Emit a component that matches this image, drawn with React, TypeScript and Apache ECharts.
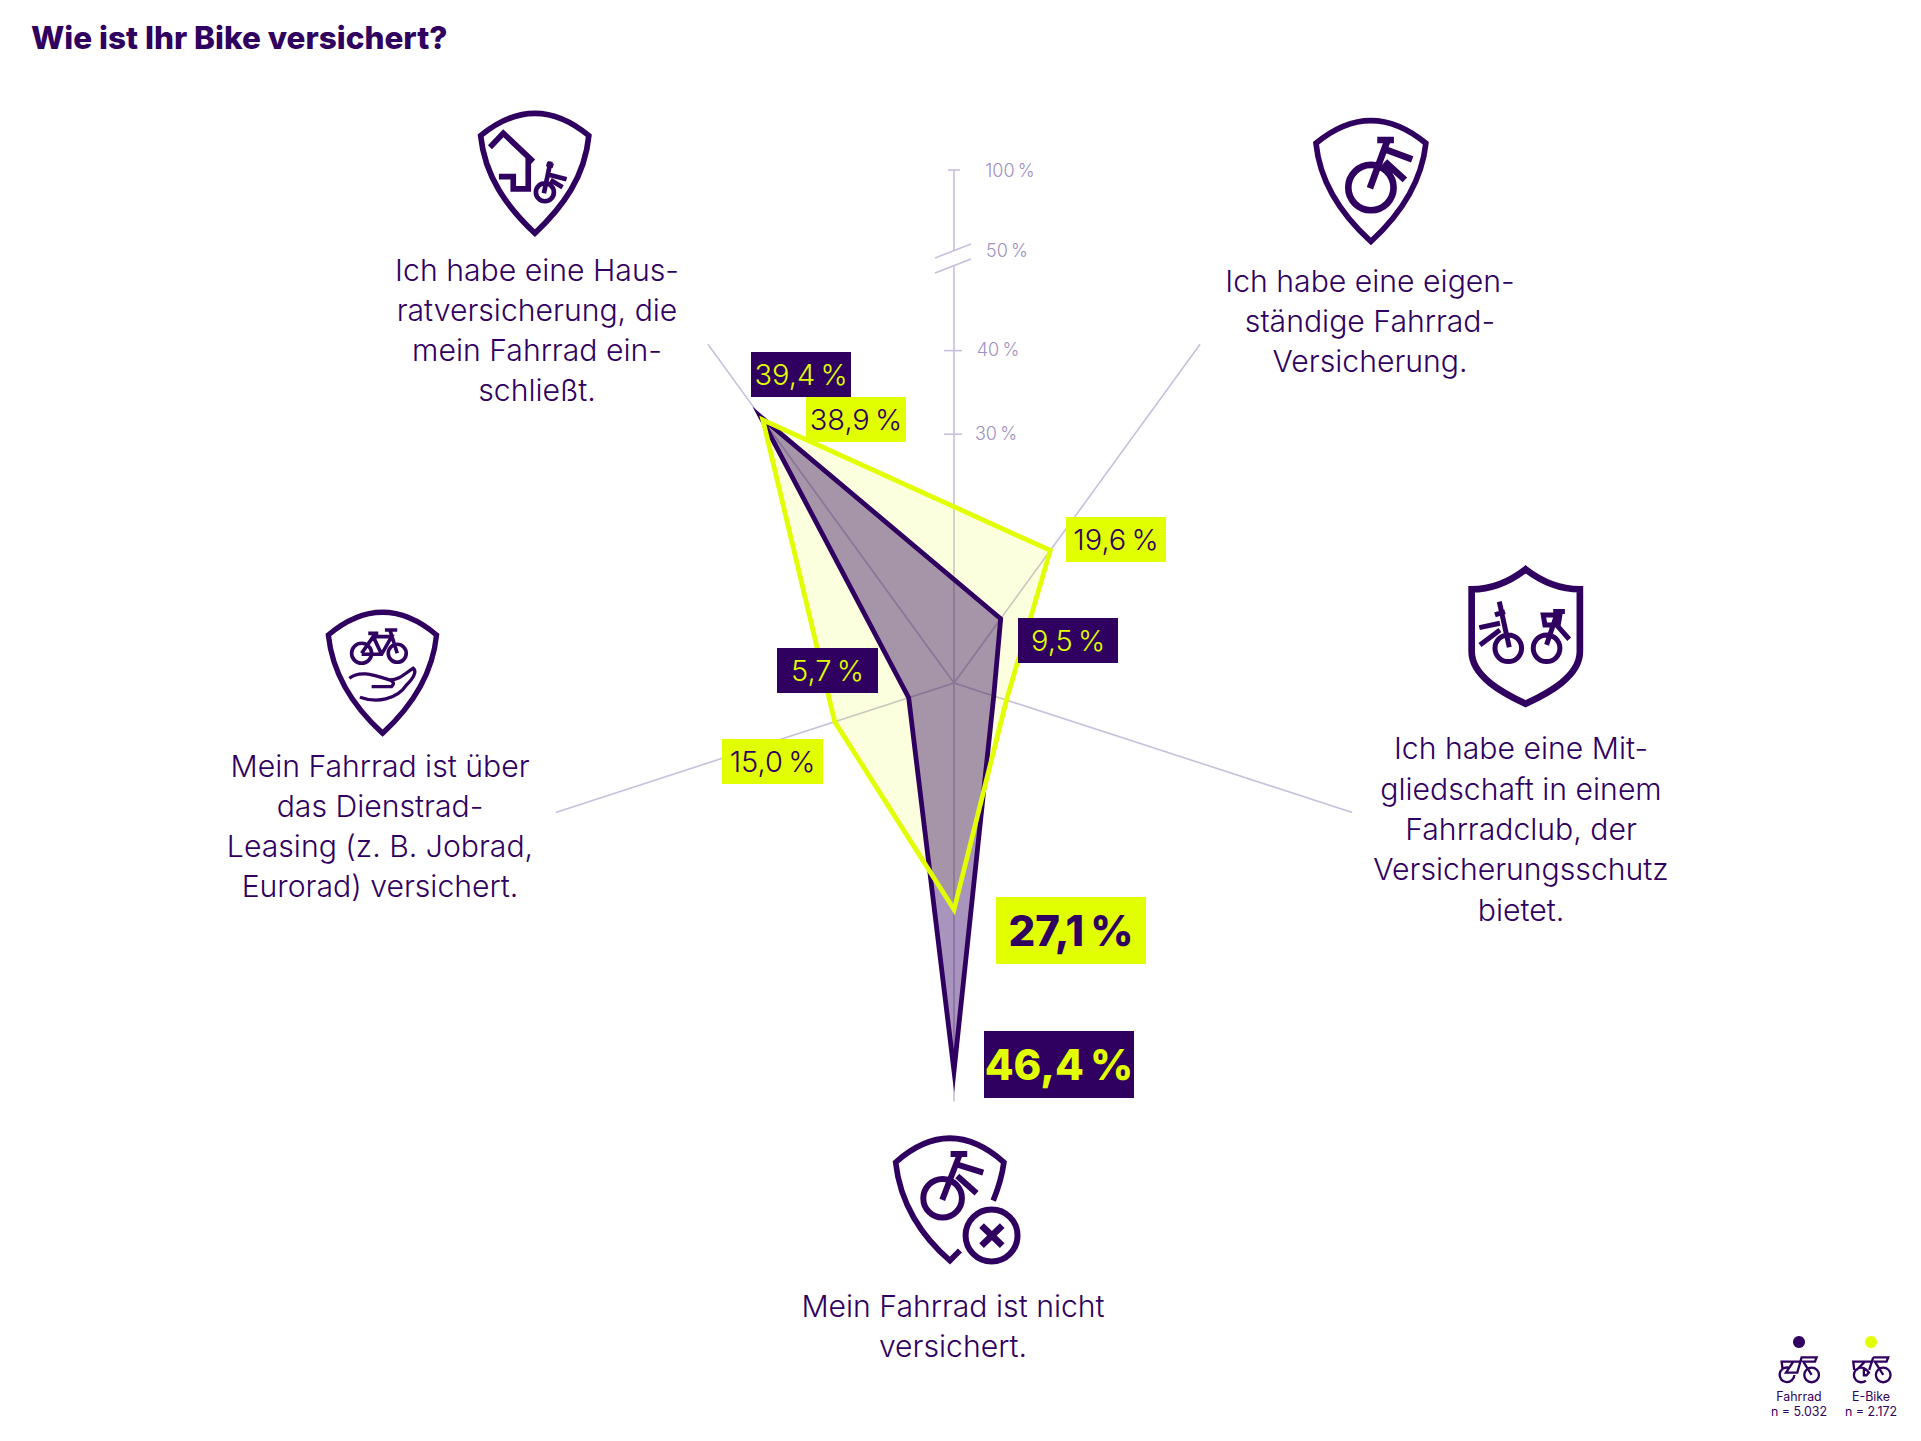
import React, { useEffect, useRef } from "react";
import * as echarts from "echarts";

const INK = "#2f0060";
const LIME = "#e1ff00";
const SPOKE = "#c8bfdc";
const SCALE_TEXT = "#a08fc2";
const FONT = "Inter, sans-serif";

const title = "Wie ist Ihr Bike versichert?";
// counter-clockwise from the right-hand spoke
const categories = [
  "Ich habe eine Mit-\ngliedschaft in einem\nFahrradclub, der\nVersicherungsschutz\nbietet.",
  "Ich habe eine eigen-\nständige Fahrrad-\nVersicherung.",
  "Ich habe eine Haus-\nratversicherung, die\nmein Fahrrad ein-\nschließt.",
  "Mein Fahrrad ist über\ndas Dienstrad-\nLeasing (z. B. Jobrad,\nEurorad) versichert.",
  "Mein Fahrrad ist nicht\nversichert.",
];
const fahrradValues = [5.0, 9.5, 39.4, 5.7, 46.4];
const eBikeValues = [6.6, 19.6, 38.9, 15.0, 27.1];
const axisMax = 50;
const scaleTicks = [30, 40];
const scaleLabels = ["100\u2009%", "50\u2009%", "40\u2009%", "30\u2009%"];
const legendNames = ["Fahrrad", "E-Bike"];
const legendCounts = ["n = 5.032", "n = 2.172"];

const CX = 954;
const CY = 683;
const R = 418;

const circle = (cx: number, cy: number, r: number) =>
  `M ${cx - r} ${cy} A ${r} ${r} 0 1 1 ${cx + r} ${cy} A ${r} ${r} 0 1 1 ${cx - r} ${cy} Z `;

const ICONS: Record<string, string> = {
  icoHouse:
    "M122 137 Q285 3 447 137 C435 260 370 350 285 430 C200 350 135 260 122 137 Z " +
    "M150 172 L190 130 L280 215 M265 200 L265 297 L220 297 L220 260 L177 260 ",
  icoHouseBike:
    circle(315, 307, 27) + "M312 310 L332 215 M320 222 L340 228 M330 255 L380 268 M332 270 L368 292",
  icoOwnShield:
    "M78 130 Q243 -6 408 130 C395 250 330 345 243 425 C155 345 90 250 78 130 Z",
  icoOwnBike:
    circle(243, 263, 68) + "M240 265 L295 115 M262 120 L312 120 M290 150 L367 178 M285 185 L345 240",
  icoClubShield:
    "M227 58 Q150 118 65 118 L65 305 C65 380 160 430 227 462 C295 430 390 380 390 305 L390 118 Q305 118 227 58 Z",
  icoClubBikes:
    circle(175, 295, 40) +
    "M178 292 L148 155 M135 195 L165 185 M88 233 L150 220 M90 285 L150 240 " +
    circle(290, 295, 40) +
    "M290 285 L320 195 M280 195 L330 195 L325 225 L285 225 Z M310 185 L345 185 M320 225 L358 268",
  icoLeaseShield:
    "M55 105 Q218 -31 380 105 C368 225 305 320 218 400 C130 320 68 225 55 105 Z",
  icoLeaseBike:
    circle(155, 160, 30) +
    circle(262, 160, 27) +
    "M155 163 L215 163 L245 110 L190 110 L155 160 M190 110 L215 163 M175 100 L205 100 M225 90 L262 90 M240 90 L262 160",
  icoLeaseHand:
    "M118 235 C150 210 190 225 240 240 C270 240 285 220 310 205 C322 215 310 235 290 255 C260 300 200 310 150 292 M185 260 L245 260 C255 250 250 245 240 240",
  icoNoneShield:
    "M340 212 C355 175 367 135 372 97 Q210 -47 47 97 C60 220 125 320 210 392 L240 362",
  icoNoneBike:
    circle(188, 205, 58) + "M187 210 L240 72 M212 72 L262 72 M235 105 L310 128 M232 138 L290 190",
  icoNoneRing: circle(335, 317, 78),
  icoNoneCross: "M305 287 L367 347 M367 287 L305 347",
  icoLegendBike:
    "M103 165 A 22 22 0 1 1 85 143 " +
    circle(155, 165, 22) +
    "M68 150 L65 125 L125 125 M100 125 L78 158 L112 158 L125 112 L170 112 L165 125 L130 125 L155 165",
  icoLegendEBike:
    "M318 148 A 22 22 0 1 0 318 182 " +
    circle(370, 165, 22) +
    "M283 150 L280 125 L340 125 M315 125 L290 150 M340 112 L385 112 L380 125 L345 125 L370 165 M340 112 L328 150 " +
    "M312 150 L320 150 L327 158 L320 166 L312 166 Z",
};
Object.keys(ICONS).forEach((k) =>
  echarts.graphic.registerShape(k, echarts.graphic.extendPath(ICONS[k] as any, {}) as any)
);

const icon = (type: string, x: number, y: number, w: number, s = 1 / 3) => ({
  type,
  x,
  y,
  scaleX: s,
  scaleY: s,
  z: 5,
  style: { fill: "none", stroke: INK, lineWidth: w, lineJoin: "miter" },
});

const text = (t: string, x: number, y: number, size: number, fill: string, weight = 300, align = "center", lh = 40.3) => ({
  type: "text",
  x,
  y,
  z: 12,
  style: {
    text: t,
    x: 0,
    y: 0,
    fill,
    font: `${weight} ${size}px ${FONT}`,
    align,
    verticalAlign: "middle",
    lineHeight: lh,
  },
});

const box = (t: string, x0: number, y0: number, x1: number, y1: number, bg: string, fg: string, size: number, weight: number) => [
  { type: "rect", z: 11, shape: { x: x0, y: y0, width: x1 - x0, height: y1 - y0 }, style: { fill: bg } },
  text(t, (x0 + x1) / 2, (y0 + y1) / 2, size, fg, weight),
];

const pct = (v: number) => v.toFixed(1).replace(".", ",") + "\u2009%";
const line = (x1: number, y1: number, x2: number, y2: number) => ({
  type: "line",
  z: 0,
  shape: { x1, y1, x2, y2 },
  style: { stroke: SPOKE, lineWidth: 1.6 },
});
const scaleY = (v: number) => CY - (v * R) / axisMax;

export default function App() {
  const ref = useRef<HTMLDivElement>(null);
  useEffect(() => {
    const chart = echarts.init(ref.current!, null, { renderer: "svg" });
    const elements: any[] = [
      text(title, 31, 37, 31.5, INK, 800, "left"),
      // break-axis scale
      line(CX, CY, CX, 266),
      line(CX, 251, CX, 170),
      line(948, 170, 960, 170),
      line(935, 258, 971, 244),
      line(935, 273, 971, 259),
      ...scaleTicks.map((v) => line(944, scaleY(v) + 2, 962, scaleY(v) + 2)),
      text(scaleLabels[0], 1010, 170, 18, SCALE_TEXT),
      text(scaleLabels[1], 1007, 250, 18, SCALE_TEXT),
      text(scaleLabels[2], 998, 349, 18, SCALE_TEXT),
      text(scaleLabels[3], 996, 433, 18, SCALE_TEXT),
      // category texts
      text(categories[2], 537, 330, 30.2, INK),
      text(categories[1], 1370, 321, 30.2, INK),
      text(categories[0], 1521, 829, 30.2, INK),
      text(categories[3], 380, 826, 30.2, INK),
      text(categories[4], 953, 1326, 30.2, INK),
      // value boxes
      ...box(pct(fahrradValues[2]), 751, 352, 851, 397, INK, LIME, 29, 300),
      ...box(pct(eBikeValues[2]), 806, 397, 906, 442, LIME, INK, 29, 300),
      ...box(pct(eBikeValues[1]), 1066, 517, 1166, 562, LIME, INK, 29, 300),
      ...box(pct(fahrradValues[1]), 1018, 618, 1118, 663, INK, LIME, 29, 300),
      ...box(pct(fahrradValues[3]), 777, 648, 878, 693, INK, LIME, 29, 300),
      ...box(pct(eBikeValues[3]), 722, 739, 823, 784, LIME, INK, 29, 300),
      ...box(pct(eBikeValues[4]), 996, 897, 1146, 964, LIME, INK, 42, 800),
      ...box(pct(fahrradValues[4]), 984, 1031, 1134, 1098, INK, LIME, 42, 800),
      // icons
      icon("icoHouse", 440, 90, 17),
      icon("icoHouseBike", 440, 90, 14),
      icon("icoOwnShield", 1290, 100, 17),
      icon("icoOwnBike", 1290, 100, 20),
      icon("icoClubShield", 1450, 550, 20),
      icon("icoClubBikes", 1450, 550, 15),
      icon("icoLeaseShield", 310, 600, 16),
      icon("icoLeaseBike", 310, 600, 11),
      icon("icoLeaseHand", 310, 600, 10),
      icon("icoNoneShield", 880, 1130, 17),
      icon("icoNoneBike", 880, 1130, 18),
      icon("icoNoneRing", 880, 1130, 18),
      icon("icoNoneCross", 880, 1130, 20),
      // legend
      { type: "circle", z: 5, shape: { cx: 1799, cy: 1342, r: 6 }, style: { fill: INK } },
      { type: "circle", z: 5, shape: { cx: 1871, cy: 1342, r: 6 }, style: { fill: LIME } },
      icon("icoLegendBike", 1760, 1320, 7),
      icon("icoLegendEBike", 1760, 1320, 7),
      text(legendNames[0], 1799, 1396, 12.4, INK, 400),
      text(legendCounts[0], 1799, 1411, 12.4, INK, 400),
      text(legendNames[1], 1871, 1396, 12.4, INK, 400),
      text(legendCounts[1], 1871, 1411, 12.4, INK, 400),
    ];
    const lineBase = { width: 4.8, join: "miter", miterLimit: 30 };
    chart.setOption({
      animation: false,
      backgroundColor: "#ffffff",
      radar: {
        center: [CX, CY],
        radius: R,
        startAngle: 342,
        splitNumber: 1,
        shape: "polygon",
        indicator: categories.map((name) => ({ name, min: 0, max: axisMax })),
        axisName: { show: false },
        axisLine: { lineStyle: { color: SPOKE, width: 1.6 } },
        axisTick: { show: false },
        axisLabel: { show: false },
        splitLine: { show: false },
        splitArea: { show: false },
      },
      series: [
        {
          type: "radar",
          name: "E-Bike",
          symbol: "none",
          lineStyle: { ...lineBase, width: 0, opacity: 0 },
          areaStyle: { color: LIME, opacity: 0.13 },
          data: [{ value: eBikeValues, name: "E-Bike" }],
        },
        {
          type: "radar",
          name: "Fahrrad",
          symbol: "none",
          lineStyle: { ...lineBase, color: INK },
          areaStyle: { color: INK, opacity: 0.42 },
          data: [{ value: fahrradValues, name: "Fahrrad" }],
        },
        {
          type: "radar",
          name: "E-Bike",
          symbol: "none",
          lineStyle: { ...lineBase, color: LIME },
          data: [{ value: eBikeValues, name: "E-Bike" }],
        },
      ],
      graphic: { elements },
    });
    return () => chart.dispose();
  }, []);
  return <div ref={ref} style={{ position: "fixed", left: 0, top: 0, width: 1921, height: 1441, background: "#fff" }} />;
}
